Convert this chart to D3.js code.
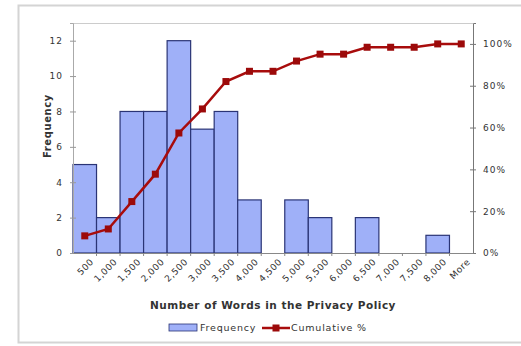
<!DOCTYPE html>
<html>
<head>
<meta charset="utf-8">
<script src="https://cdn.jsdelivr.net/npm/d3@7"></script>
<style>
  html, body { margin: 0; padding: 0; background: #fff; overflow: hidden; }
  svg { display: block; }
  text { font-family: "DejaVu Sans", Verdana, sans-serif; fill: #333; }
</style>
</head>
<body>
<div id="chart"></div>
<script>
// Daten: Klassen (Wortanzahl), Häufigkeit und kumulierte Prozent
const bins = ["500", "1,000", "1,500", "2,000", "2,500", "3,000", "3,500", "4,000", "4,500",
              "5,000", "5,500", "6,000", "6,500", "7,000", "7,500", "8,000", "More"];
const frequency = [5, 2, 8, 8, 12, 7, 8, 3, 0, 3, 2, 0, 2, 0, 0, 1, 0];
const cumulative = [0.082, 0.115, 0.246, 0.377, 0.574, 0.689, 0.82, 0.869, 0.869,
                    0.918, 0.951, 0.951, 0.984, 0.984, 0.984, 1.0, 1.0];
const freqTicks = [0, 2, 4, 6, 8, 10, 12];
const pctTicks = [0, 0.2, 0.4, 0.6, 0.8, 1.0];

const width = 521;
const height = 346;
const margin = {top: 23, right: 48, bottom: 93, left: 73};
const innerWidth = width - margin.left - margin.right;
const innerHeight = height - margin.top - margin.bottom;

const svg = d3.select("#chart")
    .append("svg")
    .attr("width", width)
    .attr("height", height);

// äußerer Rahmen
svg.append("rect")
    .attr("x", 18.5).attr("y", 5.5)
    .attr("width", 510).attr("height", 337)
    .attr("fill", "#fff")
    .attr("stroke", "#d4d4d4")
    .attr("stroke-width", 2);

const innerChart = svg.append("g")
    .attr("transform", `translate(${margin.left}, ${margin.top})`);

// Skalen
const xScale = d3.scaleBand()
    .domain(bins)
    .range([0, innerWidth])
    .padding(0);

const yScale = d3.scaleLinear()
    .domain([0, 13])
    .range([innerHeight, 0]);

const yScale2 = d3.scaleLinear()
    .domain([0, 1.1])
    .range([innerHeight, 0]);

// Rahmen oben des Plotbereichs
innerChart.append("line")
    .attr("x1", 0).attr("x2", innerWidth)
    .attr("y1", 0.5).attr("y2", 0.5)
    .attr("stroke", "#ccc");

// Balken
innerChart.selectAll("rect.bar")
    .data(frequency)
    .join("rect")
    .attr("class", "bar")
    .attr("x", (d, i) => xScale(bins[i]))
    .attr("y", d => yScale(d))
    .attr("width", xScale.bandwidth())
    .attr("height", d => innerHeight - yScale(d))
    .attr("fill", "#9fb0f8")
    .attr("stroke", "#2a3475")
    .attr("stroke-width", 1.2);

// linke Achse
const leftAxis = d3.axisLeft(yScale)
    .tickValues(freqTicks)
    .tickSize(3)
    .tickPadding(7);
const gLeft = innerChart.append("g").call(leftAxis);
gLeft.select(".domain").attr("stroke", "#aaa");
gLeft.selectAll(".tick line").attr("stroke", "#999").attr("x2", 3).attr("x1", -3);
gLeft.selectAll("text")
    .style("font-size", "9px").style("letter-spacing", "1px").attr("fill", "#555");

// rechte Achse
const rightAxis = d3.axisRight(yScale2)
    .tickValues(pctTicks)
    .tickFormat(d3.format(".0%"))
    .tickSize(3)
    .tickPadding(7);
const gRight = innerChart.append("g")
    .attr("transform", `translate(${innerWidth}, 0)`)
    .call(rightAxis);
gRight.select(".domain").attr("stroke", "#777");
gRight.selectAll(".tick line").attr("stroke", "#777").attr("x1", -3);
gRight.selectAll("text")
    .style("font-size", "9px").style("letter-spacing", "1px").attr("fill", "#555");

// untere Achse
const bottomAxis = d3.axisBottom(xScale).tickSize(0).tickPadding(0);
const gBottom = innerChart.append("g")
    .attr("transform", `translate(0, ${innerHeight})`)
    .call(bottomAxis);
gBottom.select(".domain").attr("stroke", "#888");
gBottom.selectAll("text")
    .style("font-size", "9px")
    .style("letter-spacing", "0.5px")
    .attr("fill", "#555")
    .attr("text-anchor", "end")
    .attr("y", 0)
    .attr("dy", "0.7em")
    .attr("transform", "translate(5, 5) rotate(-45)");
// kleine Trennstriche zwischen den Klassen
gBottom.selectAll("line.sep")
    .data(bins.slice(1))
    .join("line")
    .attr("class", "sep")
    .attr("x1", d => xScale(d)).attr("x2", d => xScale(d))
    .attr("y1", 0).attr("y2", 3)
    .attr("stroke", "#888");

// kumulierte Linie
const lineColor = "#a80c0c";
const lineGenerator = d3.line()
    .x((d, i) => xScale(bins[i]) + xScale.bandwidth() / 2)
    .y(d => yScale2(d));

innerChart.append("path")
    .attr("d", lineGenerator(cumulative))
    .attr("fill", "none")
    .attr("stroke", lineColor)
    .attr("stroke-width", 2.5);

innerChart.selectAll("rect.marker")
    .data(cumulative)
    .join("rect")
    .attr("class", "marker")
    .attr("x", (d, i) => xScale(bins[i]) + xScale.bandwidth() / 2 - 3.5)
    .attr("y", d => yScale2(d) - 3.5)
    .attr("width", 7).attr("height", 7)
    .attr("fill", "#9c0a0a");

// Achsentitel
svg.append("text")
    .text("Frequency")
    .attr("transform", "translate(51, 126) rotate(-90)")
    .attr("text-anchor", "middle")
    .style("font-size", "10px")
    .style("letter-spacing", "0.6px")
    .style("font-weight", "bold");

svg.append("text")
    .text("Number of Words in the Privacy Policy")
    .attr("x", 273).attr("y", 309)
    .attr("text-anchor", "middle")
    .style("font-size", "10.5px")
    .style("letter-spacing", "0.5px")
    .style("font-weight", "bold");

// Legende
const legend = svg.append("g").attr("transform", "translate(0, 328)");
legend.append("rect")
    .attr("x", 169).attr("y", -4).attr("width", 28).attr("height", 7)
    .attr("fill", "#9fb0f8").attr("stroke", "#2a3475").attr("stroke-width", 0.8);
legend.append("text").text("Frequency")
    .attr("x", 200).attr("y", 3)
    .style("font-size", "9.5px").style("letter-spacing", "0.8px").attr("fill", "#555");
legend.append("line")
    .attr("x1", 262).attr("x2", 290).attr("y1", 0).attr("y2", 0)
    .attr("stroke", lineColor).attr("stroke-width", 2.5);
legend.append("rect")
    .attr("x", 272.5).attr("y", -3.5).attr("width", 7).attr("height", 7)
    .attr("fill", "#9c0a0a");
legend.append("text").text("Cumulative %")
    .attr("x", 291).attr("y", 3)
    .style("font-size", "9.5px").style("letter-spacing", "0.8px").attr("fill", "#555");
</script>
</body>
</html>
